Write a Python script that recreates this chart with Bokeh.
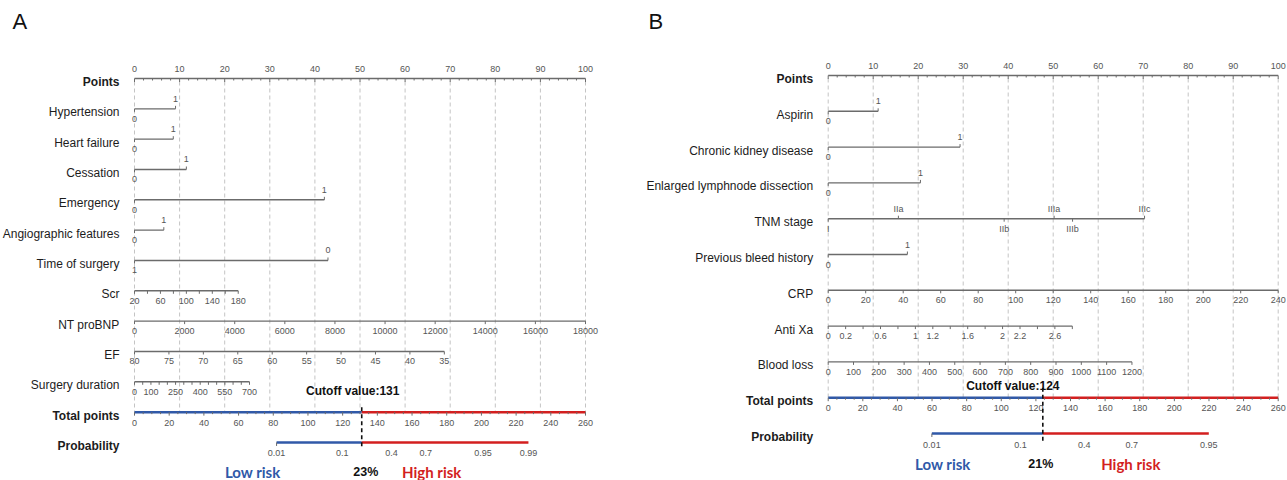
from bokeh.plotting import figure
from bokeh.layouts import row
from bokeh.models import Range1d
from bokeh.core.properties import value
from bokeh.embed import file_html
from bokeh.resources import INLINE

# ======================= DATA =======================
POINTS_TICKS = [0, 10, 20, 30, 40, 50, 60, 70, 80, 90, 100]
TOTAL_LABELS = [0, 20, 40, 60, 80, 100, 120, 140, 160, 180, 200, 220, 240, 260]
TOTAL_MAX = 260

# ---- Panel A ----
A_binary_names = ["Hypertension", "Heart failure", "Cessation", "Emergency",
                  "Angiographic features", "Time of surgery"]
A_binary_points = [9.1, 8.6, 11.5, 42.1, 6.5, 42.9]
A_binary_zero_label = ["0", "0", "0", "0", "0", "1"]
A_binary_max_label = ["1", "1", "1", "1", "1", "0"]

A_cont_names = ["Scr", "NT proBNP", "EF", "Surgery duration"]
A_cont_start = [20, 0, 80, 0]
A_cont_end = [180, 18000, 35, 700]
A_cont_end_points = [23.0, 100.0, 68.7, 25.5]
A_cont_ticks = [
    [20, 40, 60, 80, 100, 120, 140, 160, 180],
    [0, 2000, 4000, 6000, 8000, 10000, 12000, 14000, 16000, 18000],
    [80, 75, 70, 65, 60, 55, 50, 45, 40, 35],
    [0, 50, 100, 150, 200, 250, 300, 350, 400, 450, 500, 550, 600, 650, 700],
]
A_cont_labels = [
    [20, 60, 100, 140, 180],
    [0, 2000, 4000, 6000, 8000, 10000, 12000, 14000, 16000, 18000],
    [80, 75, 70, 65, 60, 55, 50, 45, 40, 35],
    [0, 100, 250, 400, 550, 700],
]
A_prob_labels = ["0.01", "0.1", "0.4", "0.7", "0.95", "0.99"]
A_prob_at_total = [81.9, 119.8, 148.1, 167.9, 200.9, 227.1]
A_cutoff = 131
A_cutoff_pct = "23%"

# ---- Panel B ----
B_binary_names = ["Aspirin", "Chronic kidney disease",
                  "Enlarged lymphnode dissection", "Previous bleed history"]
B_binary_points = [11.1, 29.3, 20.5, 17.6]
B_tnm_levels = ["I", "IIa", "IIb", "IIIa", "IIIb", "IIIc"]
B_tnm_points = [0, 15.6, 39.1, 50.2, 54.3, 70.3]
B_cont_names = ["CRP", "Anti Xa", "Blood loss"]
B_cont_start = [0, 0, 0]
B_cont_end = [240, 2.8, 1200]
B_cont_end_points = [100.0, 54.25, 67.5]
B_cont_ticks = [
    [0, 20, 40, 60, 80, 100, 120, 140, 160, 180, 200, 220, 240],
    [0, 0.2, 0.4, 0.6, 0.8, 1.0, 1.2, 1.4, 1.6, 1.8, 2.0, 2.2, 2.4, 2.6, 2.8],
    [0, 100, 200, 300, 400, 500, 600, 700, 800, 900, 1000, 1100, 1200],
]
B_cont_labels = [
    [0, 20, 40, 60, 80, 100, 120, 140, 160, 180, 200, 220, 240],
    [0, 0.2, 0.6, 1, 1.2, 1.6, 2, 2.2, 2.6],
    [0, 100, 200, 300, 400, 500, 600, 700, 800, 900, 1000, 1100, 1200],
]
B_prob_labels = ["0.01", "0.1", "0.4", "0.7", "0.95"]
B_prob_at_total = [59.9, 111.1, 147.9, 175.4, 219.9]
B_cutoff = 124
B_cutoff_pct = "21%"

# ======================= STYLE =======================
FONT = "Liberation Sans"
TICK_FONT = "Liberation Sans"
RISK_FONT = "Lato"
AXIS_COLOR = "#6b6b6b"
TICK_COLOR = "#555555"
LABEL_COLOR = "#1c1c1c"
BLUE = "#3059a8"
RED = "#d31f1f"
GRID = "#c4c4c4"


def fmt(v):
    return f"{v:g}"


def build_panel(title, W, origin, ppp, top, gap, rows, prob_labels, prob_at_total,
                cutoff, pct, lay):
    f = figure(width=W, height=480,
               x_range=Range1d(-origin / ppp, (W - origin) / ppp),
               y_range=Range1d(480, 0),
               output_backend="svg", toolbar_location=None,
               x_axis_location=None, y_axis_location=None, min_border=0)
    f.grid.visible = False
    f.outline_line_color = None

    segs = {"axis": [], "tick": []}
    tick_txt = []   # (x, y, text)
    name_txt = []   # (x, y, text, bold)

    def ry(i):
        return top + gap * i

    label_x = -15.0 / ppp
    n_rows = len(rows) + 3  # points + rows + total + probability
    y_total = ry(n_rows - 2)
    y_prob = ry(n_rows - 1)

    # grid lines
    f.segment(x0=POINTS_TICKS, y0=[top + 3] * len(POINTS_TICKS),
              x1=POINTS_TICKS, y1=[y_total] * len(POINTS_TICKS),
              line_color=GRID, line_width=1, line_dash="4 3")

    # Points axis
    y0 = ry(0)
    name_txt.append((label_x, y0 + 3.5, "Points", True))
    segs["axis"].append((0, y0, 100, y0))
    for t in range(0, 101, 2):
        L = 3.5 if t % 10 == 0 else 2
        segs["tick"].append((t, y0, t, y0 + L))
    for t in POINTS_TICKS:
        tick_txt.append((t, y0 - 10, fmt(t)))

    for i, r in enumerate(rows, start=1):
        y = ry(i)
        name_txt.append((label_x, y + 3.5, r["name"], False))
        if r["kind"] == "binary":
            p = r["points"]
            segs["axis"].append((0, y, p, y))
            segs["tick"].append((0, y, 0, y + 3))
            segs["tick"].append((p, y, p, y - 3))
            tick_txt.append((0, y + 10, r["lo"]))
            tick_txt.append((p, y - 10, r["hi"]))
        elif r["kind"] == "levels":
            pts = r["points"]
            segs["axis"].append((0, y, max(pts), y))
            for k, (lev, p) in enumerate(zip(r["levels"], pts)):
                if k % 2 == 0:
                    segs["tick"].append((p, y, p, y + 3))
                    tick_txt.append((p, y + 10, lev))
                else:
                    segs["tick"].append((p, y, p, y - 3))
                    tick_txt.append((p, y - 10, lev))
        else:
            v0, v1, pe = r["start"], r["end"], r["end_points"]

            def sc(v):
                return (v - v0) / (v1 - v0) * pe
            segs["axis"].append((0, y, pe, y))
            for t in r["ticks"]:
                segs["tick"].append((sc(t), y, sc(t), y + 3))
            for t in r["labels"]:
                tick_txt.append((sc(t), y + 10, fmt(t)))

    # Total points
    def tp(v):
        return v / TOTAL_MAX * 100.0
    name_txt.append((label_x, y_total + 3.5, "Total points", True))
    f.segment(x0=[0], y0=[y_total], x1=[tp(cutoff)], y1=[y_total],
              line_color=BLUE, line_width=2.5)
    f.segment(x0=[tp(cutoff)], y0=[y_total], x1=[tp(TOTAL_MAX)], y1=[y_total],
              line_color=RED, line_width=2.5)
    for t in range(0, TOTAL_MAX + 1, 5):
        L = 3.5 if t % 20 == 0 else 2
        segs["tick"].append((tp(t), y_total, tp(t), y_total + L))
    for t in TOTAL_LABELS:
        tick_txt.append((tp(t), y_total + 10.5, fmt(t)))

    # Probability
    name_txt.append((label_x, y_prob + 3.5, "Probability", True))
    px = [tp(v) for v in prob_at_total]
    f.segment(x0=[px[0]], y0=[y_prob], x1=[tp(cutoff)], y1=[y_prob],
              line_color=BLUE, line_width=2.5)
    f.segment(x0=[tp(cutoff)], y0=[y_prob], x1=[px[-1]], y1=[y_prob],
              line_color=RED, line_width=2.5)
    segs["tick"].append((px[0], y_prob, px[0], y_prob + 3.5))
    for x, lab in zip(px, prob_labels):
        tick_txt.append((x, y_prob + 11, lab))

    # draw collected segments
    a = segs["axis"]
    f.segment(x0=[s[0] for s in a], y0=[s[1] for s in a], x1=[s[2] for s in a],
              y1=[s[3] for s in a], line_color=AXIS_COLOR, line_width=1.4)
    t = segs["tick"]
    f.segment(x0=[s[0] for s in t], y0=[s[1] for s in t], x1=[s[2] for s in t],
              y1=[s[3] for s in t], line_color=AXIS_COLOR, line_width=1.0)

    f.text(x=[q[0] for q in tick_txt], y=[q[1] for q in tick_txt],
           text=[q[2] for q in tick_txt], text_font=value(TICK_FONT),
           text_font_size="9px", text_color=TICK_COLOR,
           text_align="center", text_baseline="middle")
    for bold in (False, True):
        sel = [q for q in name_txt if q[3] == bold]
        f.text(x=[q[0] for q in sel], y=[q[1] for q in sel], text=[q[2] for q in sel],
               text_font=value(FONT), text_font_size="12px",
               text_font_style="bold" if bold else "normal",
               text_color=LABEL_COLOR, text_align="right", text_baseline="middle")

    # cutoff marker
    xc = tp(cutoff)
    f.segment(x0=[xc], y0=[y_total + lay["dash_top"]], x1=[xc], y1=[y_prob + lay["dash_bot"]],
              line_color="#111111", line_width=1.6, line_dash="4 3")
    f.text(x=[xc], y=[y_total + lay["cut_dy"]], text=[f"Cutoff value:{cutoff}"],
           x_offset=lay["cut_dx"], text_font=value(FONT), text_font_size="12px",
           text_font_style="bold", text_color="#111111",
           text_align="center", text_baseline="middle")
    f.text(x=[xc], y=[y_prob + 30], text=[pct], x_offset=lay["pct_dx"],
           text_font=value(FONT), text_font_size="12.5px", text_font_style="bold",
           text_color="#111111", text_align="center", text_baseline="middle")
    f.text(x=[xc], y=[y_prob + 30], text=["Low risk"], x_offset=lay["low_dx"],
           text_font=value(RISK_FONT), text_font_size="15px", text_font_style="bold",
           text_color=BLUE, text_align="center", text_baseline="middle")
    f.text(x=[xc], y=[y_prob + 30], text=["High risk"], x_offset=lay["high_dx"],
           text_font=value(RISK_FONT), text_font_size="15px", text_font_style="bold",
           text_color=RED, text_align="center", text_baseline="middle")

    # panel letter
    f.text(x=[-origin / ppp], y=[21], text=[title], x_offset=lay["title_dx"],
           text_font=value(FONT), text_font_size="22px", text_color="#111111",
           text_align="left", text_baseline="middle")
    return f


rows_A = []
for n, p, lo, hi in zip(A_binary_names, A_binary_points, A_binary_zero_label, A_binary_max_label):
    rows_A.append(dict(kind="binary", name=n, points=p, lo=lo, hi=hi))
for n, s, e, pe, tk, lb in zip(A_cont_names, A_cont_start, A_cont_end, A_cont_end_points,
                               A_cont_ticks, A_cont_labels):
    rows_A.append(dict(kind="cont", name=n, start=s, end=e, end_points=pe, ticks=tk, labels=lb))

rows_B = []
for n, p in zip(B_binary_names[:3], B_binary_points[:3]):
    rows_B.append(dict(kind="binary", name=n, points=p, lo="0", hi="1"))
rows_B.append(dict(kind="levels", name="TNM stage", levels=B_tnm_levels, points=B_tnm_points))
rows_B.append(dict(kind="binary", name=B_binary_names[3], points=B_binary_points[3], lo="0", hi="1"))
for n, s, e, pe, tk, lb in zip(B_cont_names, B_cont_start, B_cont_end, B_cont_end_points,
                               B_cont_ticks, B_cont_labels):
    rows_B.append(dict(kind="cont", name=n, start=s, end=e, end_points=pe, ticks=tk, labels=lb))

lay_A = dict(dash_top=-5, dash_bot=4, cut_dx=-9, cut_dy=-21, pct_dx=4,
             low_dx=-109, high_dx=70, title_dx=12)
lay_B = dict(dash_top=-10, dash_bot=10, cut_dx=-30, cut_dy=-12, pct_dx=-2,
             low_dx=-100, high_dx=88, title_dx=5)

fA = build_panel("A", 643, 134.0, 4.51, 78.0, 30.33, rows_A, A_prob_labels, A_prob_at_total,
                 A_cutoff, A_cutoff_pct, lay_A)
fB = build_panel("B", 644, 184.7, 4.50, 75.0, 35.8, rows_B, B_prob_labels, B_prob_at_total,
                 B_cutoff, B_cutoff_pct, lay_B)

p = row(fA, fB)
open("out.html", "w").write(file_html(p, INLINE))
